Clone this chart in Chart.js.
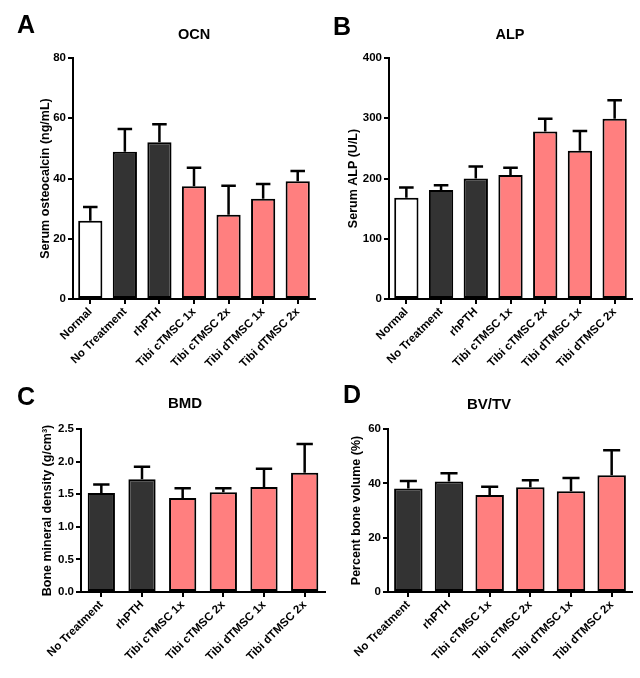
<!DOCTYPE html>
<html>
<head>
<meta charset="utf-8">
<script src="https://cdn.jsdelivr.net/npm/chart.js@4.4.1/dist/chart.umd.min.js"></script>
<style>
  html, body { margin: 0; padding: 0; background: #ffffff; }
  #wrap { position: relative; width: 640px; height: 678px; overflow: hidden; background: #fff; }
  .panel { position: absolute; }
  .letter { position: absolute; font-family: 'Liberation Sans', Arial, sans-serif; font-weight: bold;
            font-size: 25px; line-height: 25px; color: #000; }
</style>
</head>
<body>
<div id="wrap">
  <div class="panel" style="left:0;top:340px;width:330px;height:338px"><canvas id="cC"></canvas></div>
  <div class="panel" style="left:320px;top:340px;width:320px;height:338px"><canvas id="cD"></canvas></div>
  <div class="panel" style="left:0;top:0;width:325px;height:380px"><canvas id="cA"></canvas></div>
  <div class="panel" style="left:320px;top:0;width:320px;height:380px"><canvas id="cB"></canvas></div>
  <div class="letter" style="left:17px;top:12px">A</div>
  <div class="letter" style="left:333px;top:14px">B</div>
  <div class="letter" style="left:17px;top:384px">C</div>
  <div class="letter" style="left:343px;top:382px">D</div>
</div>
<script>
// ---- Data ----
const categoriesTop = ['Normal', 'No Treatment', 'rhPTH', 'Tibi cTMSC 1x', 'Tibi cTMSC 2x', 'Tibi dTMSC 1x', 'Tibi dTMSC 2x'];
const groupsTop = ['normal', 'control', 'control', 'tmsc', 'tmsc', 'tmsc', 'tmsc'];
const categoriesBottom = ['No Treatment', 'rhPTH', 'Tibi cTMSC 1x', 'Tibi cTMSC 2x', 'Tibi dTMSC 1x', 'Tibi dTMSC 2x'];
const groupsBottom = ['control', 'control', 'tmsc', 'tmsc', 'tmsc', 'tmsc'];

const ocnMean = [26.0, 48.9, 52.0, 37.4, 28.0, 33.3, 39.1];
const ocnErr  = [4.5, 7.5, 6.0, 6.2, 9.6, 4.9, 3.4];
const alpMean = [168, 181, 200, 206, 278, 246, 299];
const alpErr  = [17, 8, 20, 12, 21, 33, 31];
const bmdMean = [1.52, 1.73, 1.44, 1.53, 1.61, 1.83];
const bmdErr  = [0.13, 0.19, 0.15, 0.06, 0.28, 0.44];
const bvMean  = [38.1, 40.7, 35.7, 38.6, 37.1, 43.0];
const bvErr   = [2.8, 3.0, 3.0, 2.5, 4.9, 9.2];

// ---- Styles ----
const groupColor = { normal: '#ffffff', control: '#333333', tmsc: '#ff7f7f' };
const FONT = "'Liberation Sans', Arial, sans-serif";

const errorBarPlugin = {
  id: 'errorBars',
  afterDatasetsDraw(chart) {
    const errs = chart.options.plugins.errorBars.errors;
    const ys = chart.scales.y;
    const meta = chart.getDatasetMeta(0);
    const ctx = chart.ctx;
    ctx.save();
    ctx.strokeStyle = '#000';
    ctx.lineWidth = 2.5;
    ctx.lineCap = 'butt';
    meta.data.forEach((bar, i) => {
      const v = chart.data.datasets[0].data[i];
      const yTop = ys.getPixelForValue(v);
      const yErr = ys.getPixelForValue(v + errs[i]);
      const half = bar.width * 0.3;
      ctx.beginPath();
      ctx.moveTo(bar.x, yTop);
      ctx.lineTo(bar.x, yErr);
      ctx.moveTo(bar.x - half, yErr);
      ctx.lineTo(bar.x + half, yErr);
      ctx.stroke();
    });
    ctx.restore();
  }
};

const panelTitlePlugin = {
  id: 'panelTitle',
  afterDraw(chart) {
    const o = chart.options.plugins.panelTitle;
    const ctx = chart.ctx;
    ctx.save();
    ctx.font = 'bold ' + o.size + 'px ' + FONT;
    ctx.fillStyle = '#000';
    ctx.textAlign = 'center';
    ctx.textBaseline = 'middle';
    ctx.fillText(o.text, o.x, o.y);
    ctx.restore();
  }
};

function makeChart(id, labels, groups, values, errors, opts) {
  const colors = groups.map(g => groupColor[g]);
  return new Chart(document.getElementById(id), {
    type: 'bar',
    data: {
      labels: labels,
      datasets: [{
        data: values,
        backgroundColor: colors,
        borderColor: '#000',
        borderWidth: 2,
        borderSkipped: false,
        categoryPercentage: 1.0,
        barPercentage: opts.barPct
      }]
    },
    options: {
      responsive: true,
      maintainAspectRatio: false,
      animation: false,
      layout: { padding: opts.padding },
      plugins: {
        legend: { display: false },
        tooltip: { enabled: false },
        title: { display: false },
        errorBars: { errors: errors },
        panelTitle: opts.title
      },
      scales: {
        x: {
          offset: true,
          grid: { display: true, offset: false, drawOnChartArea: false, drawTicks: true, tickLength: 5, color: '#000', lineWidth: 2 },
          border: { display: true, color: '#000', width: 2 },
          ticks: { color: '#000', font: { family: FONT, weight: 'bold', size: 11.5 }, maxRotation: 45, minRotation: 45, padding: 1, autoSkip: false },
          afterFit(scale) { scale.height = opts.xHeight; }
        },
        y: {
          min: 0, max: opts.max,
          grid: { display: true, drawOnChartArea: false, drawTicks: true, tickLength: 5, color: '#000', lineWidth: 2 },
          border: { display: true, color: '#000', width: 2 },
          ticks: { stepSize: opts.step, color: '#000', font: { family: FONT, weight: 'bold', size: 11.5 }, padding: 2,
                   callback: opts.tickFmt },
          title: { display: true, text: opts.yTitle, color: '#000', font: { family: FONT, weight: 'bold', size: 12.5 }, padding: 0 },
          afterFit(scale) { scale.width = opts.yWidth; }
        }
      }
    },
    plugins: [errorBarPlugin, panelTitlePlugin]
  });
}

makeChart('cA', categoriesTop, groupsTop, ocnMean, ocnErr, {
  barPct: 0.7, padding: { left: 38, right: 10, top: 58, bottom: 0 }, xHeight: 81, yWidth: 35,
  max: 80, step: 20, tickFmt: v => v, yTitle: 'Serum osteocalcin (ng/mL)',
  title: { text: 'OCN', x: 194, y: 35, size: 14.5 }
});
makeChart('cB', categoriesTop, groupsTop, alpMean, alpErr, {
  barPct: 0.7, padding: { left: 26, right: 8, top: 58, bottom: 0 }, xHeight: 81, yWidth: 43,
  max: 400, step: 100, tickFmt: v => v, yTitle: 'Serum ALP (U/L)',
  title: { text: 'ALP', x: 190, y: 35, size: 14.5 }
});
makeChart('cC', categoriesBottom, groupsBottom, bmdMean, bmdErr, {
  barPct: 0.67, padding: { left: 40, right: 5, top: 89, bottom: 0 }, xHeight: 86, yWidth: 41,
  max: 2.5, step: 0.5, tickFmt: v => Number(v).toFixed(1), yTitle: 'Bone mineral density (g/cm³)',
  title: { text: 'BMD', x: 185, y: 64, size: 15 }
});
makeChart('cD', categoriesBottom, groupsBottom, bvMean, bvErr, {
  barPct: 0.7, padding: { left: 29, right: 8, top: 89, bottom: 0 }, xHeight: 86, yWidth: 39,
  max: 60, step: 20, tickFmt: v => v, yTitle: 'Percent bone volume (%)',
  title: { text: 'BV/TV', x: 169, y: 65, size: 15 }
});
</script>
</body>
</html>
